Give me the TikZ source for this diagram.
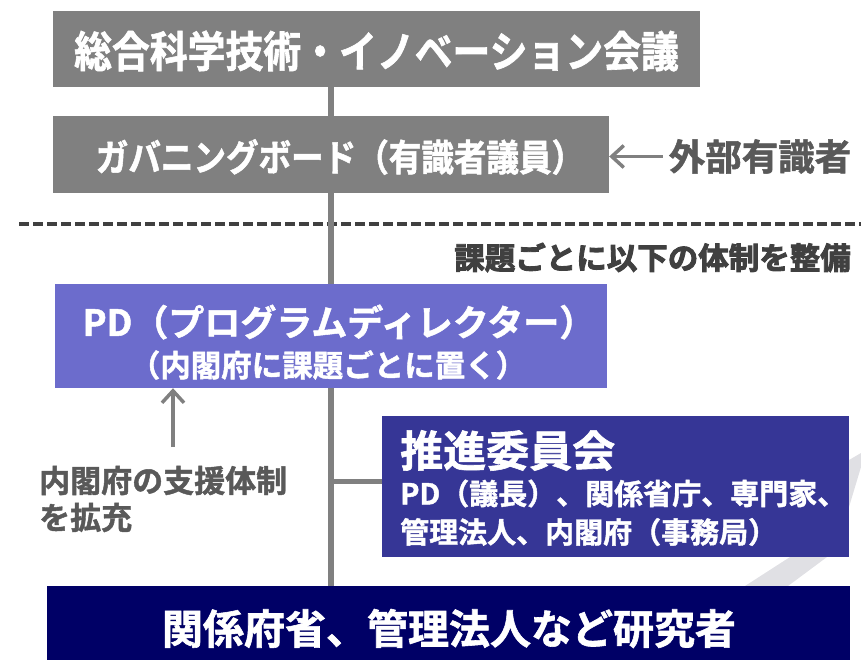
\documentclass[tikz,border=0pt]{standalone}
\usepackage{fontspec}
\usepackage{tikz}
\usetikzlibrary{arrows.meta}
\newfontfamily\jpfont{Noto Sans CJK JP Bold}[FakeBold=1.4]
\newfontfamily\jpnarrow{Noto Sans CJK JP Bold}[FakeStretch=0.88,FakeBold=1.4]
\newfontfamily\jpheavy{Noto Sans CJK JP Bold}[FakeBold=3]
\newcommand\fsz[1]{\fontsize{#1pt}{#1pt}\selectfont}

\definecolor{boxgray}{RGB}{128,128,128}
\definecolor{pdblue}{RGB}{108,108,204}
\definecolor{commblue}{RGB}{54,54,150}
\definecolor{basenavy}{RGB}{0,0,102}
\definecolor{labelgray}{RGB}{89,89,89}
\definecolor{dashgray}{RGB}{64,64,64}
\definecolor{swooshgray}{RGB}{224,224,228}

\tikzset{
	panel/.style={rectangle, inner sep=0pt},
	intext/.style={inner sep=0pt, text=white, font=\jpfont},
	note/.style={inner sep=0pt, text=labelgray, font=\jpfont},
	stem/.style={draw=boxgray, line width=6pt},
	pointer/.style={draw=boxgray, line width=3.5pt, -{Straight Barb[length=12pt,width=22pt]}},
}

\begin{document}
\begin{tikzpicture}[x=1pt,y=-1pt]
	\useasboundingbox (0,0) rectangle (861,659);
	% faint swoosh behind the lower boxes
	\fill[swooshgray] (745,586) -- (788,586) -- (827,557) -- (849,507) -- (861,467) -- (861,453) -- (849,460) -- (790,557) -- cycle;

	\node[panel, fill=boxgray, minimum width=647, minimum height=76] (council) at (376.5,49) {};
	\node[intext, font=\jpnarrow\fsz{43}] (councillabel) at (376.5,51) {総合科学技術・イノベーション会議};

	\node[panel, fill=boxgray, minimum width=556, minimum height=77] (gov) at (331,154.5) {};
	\node[intext, font=\jpnarrow\fsz{37}] (govlabel) at (340,157) {ガバニングボード（有識者議員）};
	\node[note, font=\jpfont\fsz{36.5}] (ext) at (760,156.5) {外部有識者};

	\draw[dashgray, line width=3.5pt, dash pattern=on 9.5pt off 4.5pt] (19,224) -- (861,224);
	\node[note, text=dashgray, anchor=east, font=\jpheavy\fsz{30.5}] (scope) at (851,257.5) {課題ごとに以下の体制を整備};

	\node[panel, fill=pdblue, minimum width=552, minimum height=104] (pd) at (331,336) {};
	\node[intext, font=\jpfont\fsz{36}] (pdlabel) at (339,322) {PD（プログラムディレクター）};
	\node[intext, font=\jpfont\fsz{30.5}] (pdsub) at (328,365) {（内閣府に課題ごとに置く）};

	\node[panel, fill=commblue, minimum width=467, minimum height=141] (comm) at (615.5,486.5) {};
	\node[intext, anchor=west, font=\jpfont\fsz{43}] (commtitle) at (400,450.5) {推進委員会};
	\node[intext, anchor=west, font=\jpfont\fsz{29}] (commline1) at (400,493.5) {PD（議長）、関係省庁、専門家、};
	\node[intext, anchor=west, font=\jpfont\fsz{29}] (commline2) at (400,532) {管理法人、内閣府（事務局）};

	\node[panel, fill=basenavy, minimum width=803, minimum height=76] (base) at (448.5,624) {};
	\node[intext, font=\jpfont\fsz{41}] (baselabel) at (449,628.5) {関係府省、管理法人など研究者};

	\node[note, anchor=west, align=left, font=\jpfont\fontsize{31pt}{37pt}\selectfont] (support) at (39,499) {内閣府の支援体制\\を拡充};
	\coordinate (suptail) at (173,447);
	\coordinate (junction) at ([yshift=5.5pt]comm.west);

	% spine and branches
	\draw[stem] (gov.north |- council.south) -- (gov.north);
	\draw[stem] (gov.south) -- (pd.north);
	\draw[stem] (pd.south) -- (pd.south |- base.north);
	\draw[stem, line width=5pt] (pd.south |- junction) -- (junction);
	\draw[pointer] ([xshift=-6pt]ext.west) -- (ext.west -| gov.east);
	\draw[pointer] (suptail) -- (suptail |- pd.south);
\end{tikzpicture}
\end{document}
